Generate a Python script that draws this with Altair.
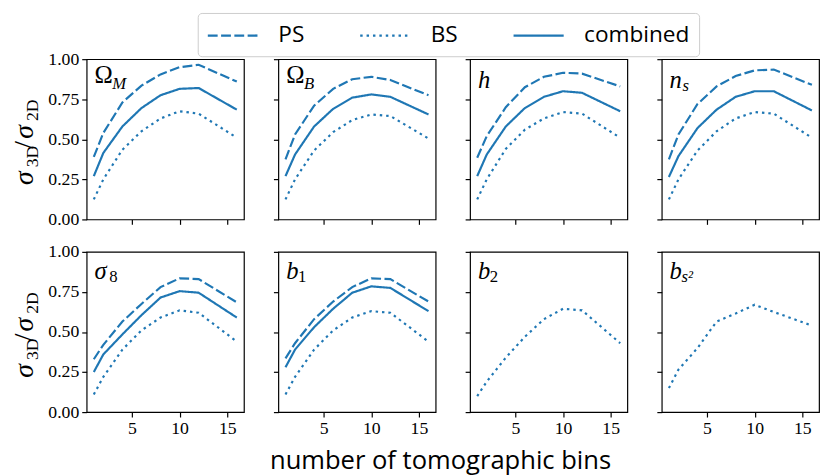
import altair as alt
import pandas as pd

BLUE = "#1f77b4"
SERIES = ["PS", "BS", "combined"]
BINS = [1, 2, 4, 6, 8, 10, 12, 16]

PANELS = ["OmegaM", "OmegaB", "h", "ns", "sigma8", "b1", "b2", "bs2"]
LABEL_MAIN = ["Ω", "Ω", "h", "n", "σ", "b", "b", "b"]
LABEL_SUB = ["M", "B", "", "s", "8", "1", "2", "s²"]

PS = {
    "OmegaM": [0.39, 0.54, 0.73, 0.835, 0.905, 0.95, 0.965, 0.86],
    "OmegaB": [0.375, 0.53, 0.71, 0.815, 0.875, 0.89, 0.87, 0.775],
    "h": [0.385, 0.52, 0.70, 0.825, 0.89, 0.915, 0.91, 0.83],
    "ns": [0.375, 0.53, 0.72, 0.83, 0.895, 0.93, 0.935, 0.84],
    "sigma8": [0.33, 0.42, 0.565, 0.675, 0.78, 0.835, 0.83, 0.685],
    "b1": [0.335, 0.43, 0.58, 0.69, 0.78, 0.835, 0.83, 0.69],
}
COMBINED = {
    "OmegaM": [0.27, 0.415, 0.58, 0.695, 0.775, 0.815, 0.82, 0.685],
    "OmegaB": [0.27, 0.405, 0.58, 0.69, 0.76, 0.78, 0.765, 0.655],
    "h": [0.27, 0.405, 0.58, 0.695, 0.765, 0.80, 0.79, 0.675],
    "ns": [0.265, 0.395, 0.57, 0.685, 0.765, 0.80, 0.80, 0.68],
    "sigma8": [0.25, 0.36, 0.485, 0.605, 0.715, 0.755, 0.745, 0.59],
    "b1": [0.28, 0.39, 0.53, 0.645, 0.745, 0.785, 0.775, 0.63],
}
BS = {
    "OmegaM": [0.125, 0.25, 0.435, 0.55, 0.63, 0.675, 0.66, 0.51],
    "OmegaB": [0.125, 0.25, 0.43, 0.545, 0.62, 0.655, 0.645, 0.505],
    "h": [0.125, 0.25, 0.44, 0.56, 0.63, 0.67, 0.66, 0.51],
    "ns": [0.125, 0.25, 0.43, 0.55, 0.63, 0.67, 0.66, 0.51],
    "sigma8": [0.11, 0.22, 0.39, 0.51, 0.59, 0.635, 0.62, 0.44],
    "b1": [0.11, 0.22, 0.39, 0.51, 0.59, 0.63, 0.62, 0.44],
    "b2": [0.10, 0.19, 0.34, 0.47, 0.58, 0.645, 0.635, 0.43],
    "bs2": [0.15, 0.265, 0.40, 0.565, 0.615, 0.67, 0.625, 0.54],
}

SERIF = "Liberation Serif"
SANS = "Open Sans"
W, H = 160, 163

# label layout (style only): main glyph width before the subscript, baselines
MAIN_W = {"Ω": 18, "h": 12, "n": 13, "σ": 15, "b": 12}
MAIN_BASE = {"Ω": 24, "h": 29, "n": 29, "σ": 28, "b": 28}


def panel_df(name):
    rows = []
    for s, table in (("PS", PS), ("BS", BS), ("combined", COMBINED)):
        if name in table:
            for b, v in zip(BINS, table[name]):
                rows.append({"bins": b, "ratio": v, "series": s})
    return pd.DataFrame(rows)


def text_layer(txt, size, x, y, style="normal", angle=0):
    return alt.Chart(pd.DataFrame({"t": [txt]})).mark_text(
        font=SERIF, fontSize=size, fontStyle=style, angle=angle,
        align="left", baseline="alphabetic", color="black"
    ).encode(x=alt.value(x), y=alt.value(y), text="t:N")


def panel(i):
    name = PANELS[i]
    row, col = divmod(i, 4)
    lines = alt.Chart(panel_df(name)).mark_line(color=BLUE, strokeWidth=2.2, clip=True).encode(
        x=alt.X("bins:Q",
                scale=alt.Scale(domain=[0.25, 16.75], nice=False, zero=False),
                axis=alt.Axis(values=[5, 10, 15], labels=(row == 1), title=None)),
        y=alt.Y("ratio:Q",
                scale=alt.Scale(domain=[0, 1], nice=False),
                axis=alt.Axis(values=[0, 0.25, 0.5, 0.75, 1.0], format=".2f",
                              labels=(col == 0), title=None)),
        strokeDash=alt.StrokeDash(
            "series:N",
            scale=alt.Scale(domain=SERIES, range=[[10, 3.5], [2.5, 4], [1, 0]]),
            legend=alt.Legend(title=None),
        ),
        order=alt.Order("bins:Q"),
    )
    layers = [lines]
    main = LABEL_MAIN[i]
    sub = LABEL_SUB[i]
    base = MAIN_BASE[main]
    layers.append(text_layer(main, 25, 8, base, "normal" if main == "Ω" else "italic"))
    if sub:
        drop = 6 if main == "Ω" else 3
        layers.append(text_layer(sub, 17, 8 + MAIN_W[main], base + drop,
                                 "normal" if sub.isdigit() else "italic"))
    if col == 0:
        pieces = [("σ", 28, -55, 128, "italic"),
                  ("3D", 18, -49, 110, "normal"),
                  ("/", 28, -55, 91, "normal"),
                  ("σ", 28, -55, 81, "italic"),
                  ("2D", 18, -49, 63, "normal")]
        for txt, fs, px, py, st in pieces:
            layers.append(text_layer(txt, fs, px, py, st, angle=270))
    return alt.layer(*layers).properties(width=W, height=H)


top = alt.hconcat(*[panel(i) for i in range(4)], spacing=27)
bottom = alt.hconcat(*[panel(i) for i in range(4, 8)], spacing=27)

chart = alt.vconcat(top, bottom, spacing=13).properties(
    padding={"left": 2, "top": 0, "right": 2, "bottom": 2},
    title=alt.TitleParams(
        "number of tomographic bins", orient="bottom", anchor="middle",
        font=SANS, fontSize=26, fontWeight="normal", color="black", offset=10, dx=26
    ),
).configure_view(
    stroke="black", strokeWidth=1.2
).configure_axis(
    domain=False, grid=False, ticks=True, tickColor="black", tickSize=5,
    tickWidth=1.2, labelFont=SERIF, labelFontSize=18, labelColor="black",
    labelPadding=3, minExtent=0
).configure_legend(
    orient="none", legendX=113, legendY=-47, direction="horizontal",
    strokeColor="#cccccc", fillColor="white", cornerRadius=4, padding=9,
    labelFont=SANS, labelFontSize=23, labelColor="black", labelOffset=45,
    symbolType="M-1,0H3", symbolSize=650, symbolStrokeWidth=2.4,
    symbolStrokeColor=BLUE, columnPadding=51
)

chart.save("out.html", embed_options={"renderer": "svg", "actions": False})
